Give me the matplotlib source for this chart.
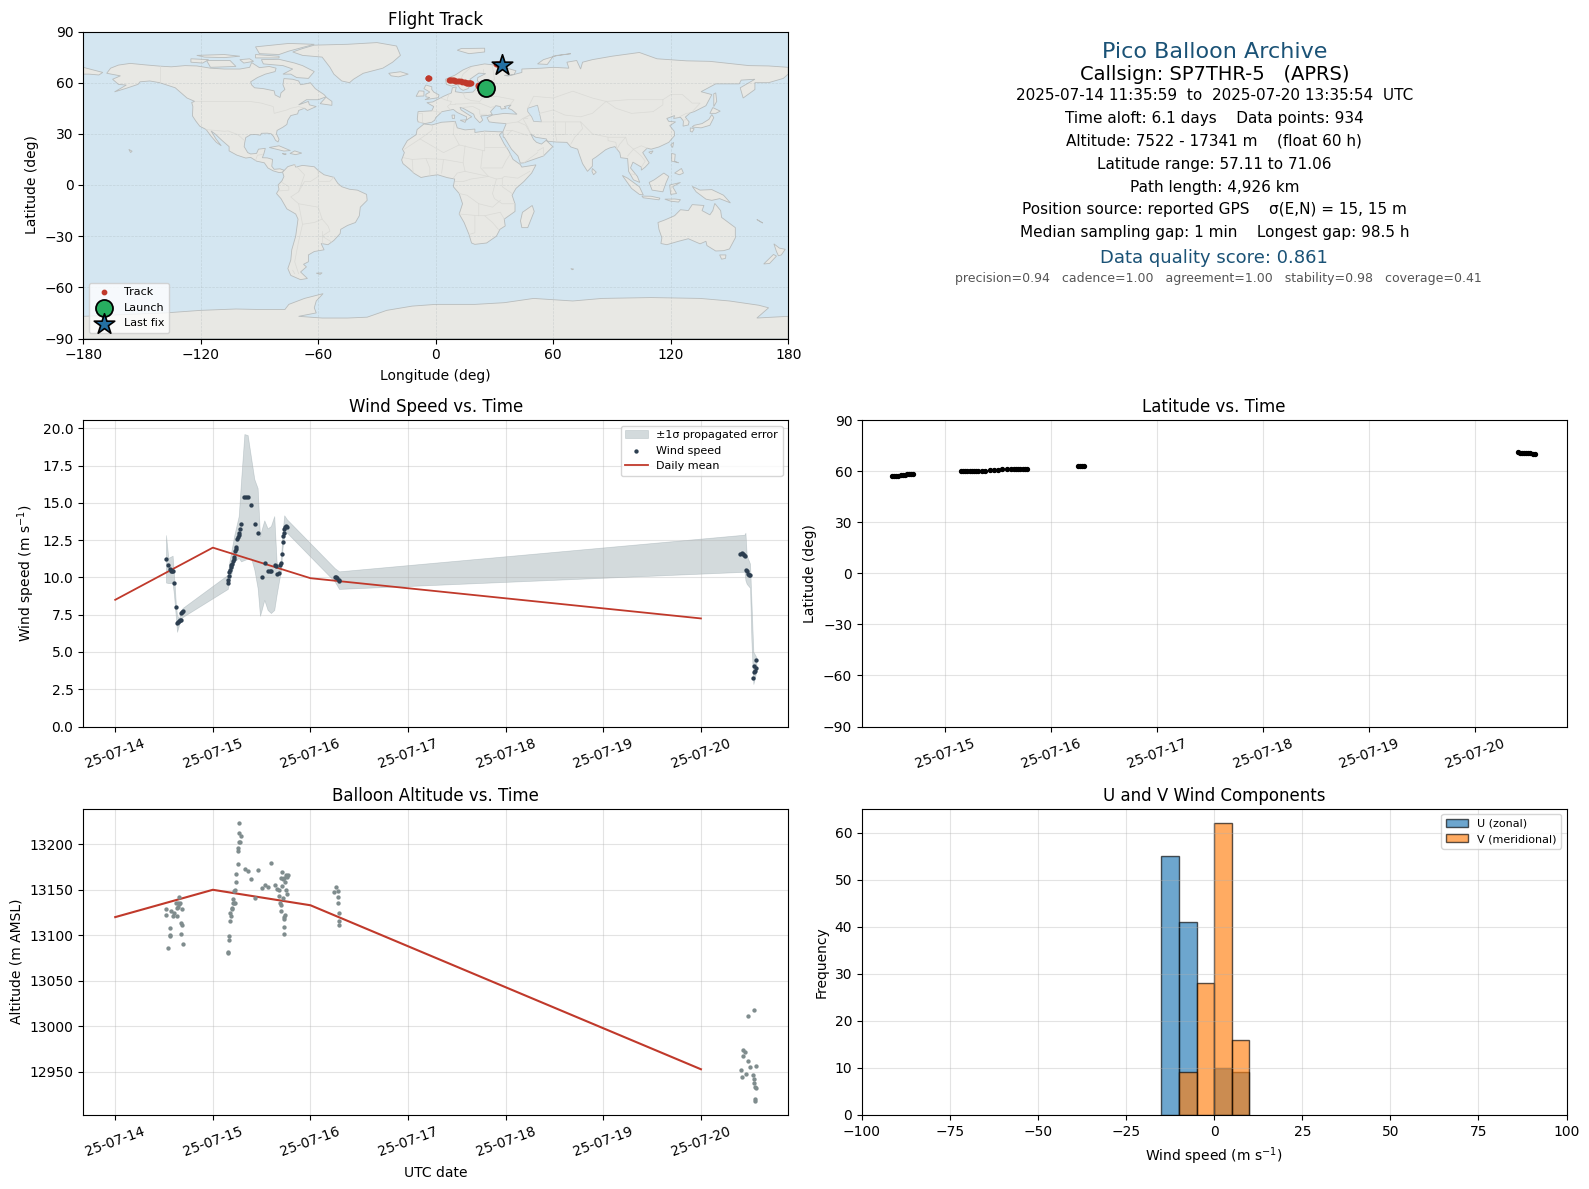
#!/usr/bin/python
# -*- coding: utf-8 -*-
from datetime import datetime

import numpy as np
import matplotlib
matplotlib.use("Agg")
import matplotlib.pyplot as plt
import matplotlib.dates as mdates

W, H = 1589, 1189

# Times are given as day of July 2025 (fractional)
mean_days = [14, 15, 16, 20]
wind_mean = [8.5, 12.0, 9.95, 7.25]
alt_mean = [13120, 13150, 13133, 12953]

wind_days = [14.520, 14.541, 14.558, 14.568, 14.578, 14.592, 14.602, 14.622, 14.633, 14.643, 14.653,
             14.663, 14.673, 14.677, 14.687, 14.694, 15.153, 15.156, 15.163, 15.170, 15.177, 15.184,
             15.190, 15.197, 15.207, 15.218, 15.221, 15.228, 15.235, 15.241, 15.252, 15.258, 15.265,
             15.272, 15.279, 15.286, 15.323, 15.340, 15.357, 15.388, 15.429, 15.459, 15.500, 15.531,
             15.561, 15.582, 15.595, 15.633, 15.650, 15.660, 15.673, 15.684, 15.694, 15.704, 15.714,
             15.714, 15.724, 15.731, 15.738, 15.748, 15.759, 16.248, 16.259, 16.276, 16.289, 16.296,
             20.405, 20.418, 20.429, 20.439, 20.452, 20.459, 20.469, 20.480, 20.490, 20.503, 20.565,
             20.544, 20.565, 20.551, 20.544, 20.531]
wind_speed = [11.24, 10.83, 10.59, 10.41, 10.41, 10.45, 9.62, 8.00, 6.94, 6.98, 7.07, 7.12, 7.14, 7.59,
              7.68, 7.73, 9.66, 9.84, 10.07, 10.34, 10.52, 10.68, 10.81, 10.92, 11.08, 11.26, 11.40,
              11.80, 11.91, 12.05, 12.59, 12.70, 12.82, 12.97, 13.22, 13.56, 15.38, 15.38, 15.38, 14.84,
              13.56, 12.95, 10.05, 10.99, 10.45, 10.45, 10.45, 10.86, 10.74, 10.25, 10.30, 10.84, 10.95,
              11.60, 12.41, 12.77, 12.95, 13.22, 13.40, 13.43, 13.38, 10.05, 10.02, 9.93, 9.84, 9.77,
              11.59, 11.61, 11.59, 11.52, 11.43, 10.52, 10.40, 10.20, 10.18, 10.16, 4.46, 4.06, 3.92,
              3.74, 3.63, 3.25]

band_days = [14.520, 14.544, 14.588, 14.602, 14.622, 14.633, 14.653, 14.677, 14.694, 15.153, 15.170,
             15.221, 15.265, 15.289, 15.323, 15.357, 15.391, 15.425, 15.459, 15.483, 15.500, 15.527,
             15.561, 15.595, 15.629, 15.653, 15.680, 15.697, 15.714, 15.731, 15.759, 16.248, 16.293,
             20.446, 20.456, 20.469, 20.503, 20.517, 20.537, 20.554, 20.568]
band_hi = [12.84, 11.31, 11.46, 10.18, 8.15, 7.48, 7.25, 7.82, 7.97, 10.18, 11.08, 12.88, 14.12, 16.49,
           19.62, 19.55, 18.06, 16.60, 15.99, 12.77, 13.22, 13.83, 13.29, 13.45, 14.12, 11.08, 10.52,
           11.19, 13.00, 14.17, 13.90, 10.63, 10.41, 12.87, 13.00, 11.48, 10.92, 8.45, 5.00, 4.82, 4.64]
band_lo = [9.66, 9.62, 9.62, 8.83, 7.25, 6.35, 6.80, 7.25, 7.36, 9.23, 9.73, 11.08, 11.31, 11.08, 11.17,
           11.26, 11.31, 10.52, 9.28, 7.43, 7.82, 8.49, 7.82, 7.61, 7.82, 8.83, 9.84, 10.41, 11.98,
           12.88, 13.00, 9.73, 9.23, 10.38, 9.80, 9.57, 9.30, 5.76, 2.85, 3.30, 3.74]

alt_days = [14.520, 14.520, 14.541, 14.558, 14.565, 14.561, 14.575, 14.595, 14.602, 14.619, 14.633,
            14.633, 14.643, 14.643, 14.653, 14.653, 14.663, 14.673, 14.677, 14.684, 14.684, 14.694,
            15.153, 15.153, 15.163, 15.163, 15.173, 15.173, 15.184, 15.194, 15.194, 15.204, 15.204,
            15.214, 15.224, 15.214, 15.224, 15.235, 15.235, 15.255, 15.255, 15.255, 15.265, 15.276,
            15.265, 15.286, 15.265, 15.327, 15.357, 15.388, 15.429, 15.459, 15.500, 15.531, 15.561,
            15.592, 15.633, 15.653, 15.673, 15.673, 15.684, 15.694, 15.694, 15.704, 15.694, 15.714,
            15.714, 15.704, 15.735, 15.724, 15.745, 15.755, 15.745, 15.755, 15.765, 15.724, 15.735,
            15.724, 15.724, 15.724,
            16.245, 16.265, 16.279, 16.279, 16.286, 16.296, 16.296, 16.296,
            20.541, 20.480, 20.429, 20.449, 20.429, 20.480, 20.408, 20.500, 20.561, 20.418, 20.459,
            20.531, 20.541, 20.541, 20.551, 20.561, 20.555, 20.555]
alt_m = [13129, 13122, 13086, 13100, 13108, 13099, 13127, 13121, 13125, 13136, 13121, 13130, 13136,
         13131, 13142, 13134, 13135, 13102, 13113, 13111, 13129, 13091,
         13082, 13081, 13095, 13099, 13116, 13124, 13121, 13130, 13129, 13140, 13135, 13136, 13135,
         13149, 13150, 13158, 13167, 13178, 13193, 13196, 13202, 13202, 13212, 13209, 13223, 13173,
         13171, 13162, 13141, 13172, 13152, 13155, 13153, 13179, 13155, 13151, 13150, 13143, 13136,
         13133, 13127, 13169, 13163, 13162, 13141, 13154, 13159, 13163, 13150, 13145, 13166, 13164,
         13166, 13120, 13122, 13118, 13109, 13102,
         13148, 13153, 13149, 13142, 13135, 13125, 13116, 13111,
         13018, 13011, 12974, 12972, 12967, 12962, 12952, 12955, 12957, 12945, 12948, 12947, 12942,
         12938, 12933, 12932, 12920, 12918]

lat_days = [14.50, 14.52, 14.54, 14.56, 14.58, 14.60, 14.62, 14.64, 14.66, 14.68, 14.70,
            15.15, 15.17, 15.19, 15.21, 15.23, 15.25, 15.27, 15.29, 15.31, 15.35, 15.38, 15.42, 15.46,
            15.50, 15.54, 15.58, 15.62, 15.65, 15.67, 15.69, 15.71, 15.73, 15.75, 15.77,
            16.25, 16.27, 16.29, 16.31,
            20.40, 20.42, 20.44, 20.46, 20.48, 20.50, 20.52, 20.54, 20.56]
lat_deg = [57.1, 57.2, 57.4, 57.5, 57.7, 57.8, 57.9, 58.1, 58.2, 58.3, 58.4,
           60.0, 60.0, 60.0, 60.0, 60.0, 60.0, 60.0, 60.0, 60.0, 60.1, 60.2, 60.6, 60.8,
           61.0, 61.1, 61.1, 61.2, 61.4, 61.5, 61.6, 61.6, 61.6, 61.6, 61.6,
           62.9, 62.9, 62.9, 62.9,
           71.06, 70.9, 70.8, 70.7, 70.6, 70.6, 70.5, 70.4, 70.3]

track_lon = [25.5, 25.0, 24.6, 24.2, 23.8, 23.4, 23.0, 22.6, 22.2, 21.8, 21.4,
             17.9, 17.7, 17.4, 17.1, 16.8, 16.5, 16.2, 15.9, 15.6, 15.0, 14.4, 13.6, 12.8,
             12.0, 11.2, 10.5, 9.8, 9.2, 8.7, 8.2, 7.8, 7.4, 7.2, 7.0,
             -3.8, -3.7, -3.7, -3.6,
             31.0, 31.4, 31.8, 32.2, 32.5, 32.8, 33.1, 33.4, 33.7]

launch_lon, launch_lat = 25.8, 57.11
last_lon, last_lat = 33.7, 70.3

hist_left = [-15, -10, 0, 5]
u_counts = [55, 41, 10, 9]
v_left = [-10, -5, 0, 5]
v_counts = [9, 28, 62, 16]

info_lines = [
    ("Pico Balloon Archive", 16, "#1a5276", 1214.5, 51.7),
    ("Callsign: SP7THR-5   (APRS)", 14, "black", 1214.5, 74),
    ("2025-07-14 11:35:59  to  2025-07-20 13:35:54  UTC", 11, "black", 1214.5, 95.2),
    ("Time aloft: 6.1 days    Data points: 934", 11, "black", 1214.5, 118.6),
    ("Altitude: 7522 - 17341 m    (float 60 h)", 11, "black", 1213.5, 140.8),
    ("Latitude range: 57.11 to 71.06", 11, "black", 1214.5, 164.2),
    ("Path length: 4,926 km", 11, "black", 1214.5, 187.5),
    ("Position source: reported GPS    \u03c3(E,N) = 15, 15 m", 11, "black", 1214.5, 209.8),
    ("Median sampling gap: 1 min    Longest gap: 98.5 h", 11, "black", 1214.5, 233),
    ("Data quality score: 0.861", 13, "#1a5276", 1213.5, 258.4),
    ("precision=0.94   cadence=1.00   agreement=1.00   stability=0.98   coverage=0.41", 9, "#555555", 1218.5, 278.7),
]

# Hand-read coastlines (lon, lat)
north_america = [(-168,65.5),(-166,68.5),(-162,70.3),(-156,71.3),(-148,70.4),(-141,69.7),(-135,69.3),(-128,70),(-122,69.8),(-115,68.5),(-108,68),(-100,68),(-95,69),(-94,71.8),(-90,68.8),(-85,69.5),(-81.5,68.5),(-82,66.5),(-87,65),(-91,63),(-94.5,60.5),(-94,58.7),(-92.5,57),(-88,56.5),(-82.5,55.2),(-82,52.8),(-79.5,51.3),(-79,54),(-77,56),(-78,58.8),(-77.5,62.4),(-73,62),(-70,61),(-69,58.8),(-65.5,59.5),(-64,60),(-61.5,56.5),(-57,53),(-56,51.7),(-60,50),(-66,50),(-70,47),(-65,49),(-64.5,47),(-61,46),(-65.5,43.7),(-67,45),(-70,43.7),(-70.5,41.7),(-74,40.7),(-75.5,38),(-76,35.5),(-78,33.9),(-81,32),(-81.3,30),(-80,26.8),(-80.5,25.2),(-81.8,26.2),(-82.8,28.5),(-84,30),(-86,30.4),(-89,30.3),(-89.5,29.2),(-92,29.6),(-94.5,29.5),(-97,27.8),(-97.5,25),(-97.8,22.5),(-96,19),(-94.5,18.2),(-91.5,18.5),(-90.5,21),(-87,21.5),(-87.7,18.5),(-88.5,16),(-86,15.9),(-83.3,15),(-83.7,11),(-82.5,9.2),(-79.5,9.5),(-77.3,8.6),(-78.2,7.5),(-80,7.3),(-83,8.3),(-85.7,10),(-87.5,13),(-91.5,14),(-94.5,16.2),(-97,15.8),(-101.5,17.5),(-105.5,20),(-105.5,22.5),(-109,26),(-112.7,30),(-114.7,31.7),(-112.2,27),(-109.5,23),(-112,25),(-115,29),(-117.2,32.5),(-120.5,34.5),(-122.5,37.5),(-124.2,40.5),(-124,46),(-124.6,48.4),(-123,49),(-127,51),(-130.5,54.5),(-133,57),(-137,58.5),(-141,60),(-146,61),(-151,60.5),(-152,59),(-158,56.7),(-164,54.6),(-158,58.6),(-162,59),(-165,62),(-161,64),(-168,65.5)]
south_america = [(-77.3,8.6),(-75.5,10.8),(-72,12),(-71.5,10.5),(-68,11.5),(-62,10.7),(-60,8.5),(-57,6),(-52,4.5),(-50,1),(-48,-1),(-44,-2.5),(-40,-3),(-35.3,-5.5),(-35,-9),(-38.5,-13),(-39,-18),(-41,-22),(-45,-23.7),(-48.5,-26),(-48.8,-28.5),(-52,-32.5),(-55,-35),(-58.5,-34.3),(-57,-38),(-62,-39),(-65,-41),(-65,-45),(-67.5,-46.5),(-66,-48),(-69,-51),(-65.5,-54.8),(-69,-55.5),(-74,-53),(-75.5,-49),(-74,-44),(-73.5,-38),(-71.5,-30),(-70.3,-20),(-71.5,-17),(-76,-14),(-79,-8),(-81.3,-5),(-80,-2.5),(-80.5,0),(-78.5,2.5),(-77.5,5),(-78.2,7.5)]
africa = [(-6,35.8),(-2,35.2),(3,36.8),(10,37.3),(11,33.5),(15,32.3),(20,32.8),(20,30.8),(25,31.6),(32,31.2),(34.3,31.2),(32.5,29.5),(35,24),(37.3,20),(39.5,15),(43.2,12),(44,10.5),(51.2,11.8),(49,7),(45,2),(41,-2),(39,-6),(40.5,-11),(40.5,-15.5),(35,-20),(35.5,-24),(32.8,-26),(31,-30),(26,-34),(20,-34.8),(18.3,-34),(17,-29),(14.5,-22),(12,-17),(13.7,-11),(12,-5),(9,-1),(9.7,3.5),(6,4.3),(1,6),(-4,5.2),(-7.5,4.4),(-11,6.8),(-13.5,9.5),(-16.7,12.5),(-17.4,14.7),(-16,19),(-17,21),(-14.5,26),(-10,29.5),(-9.5,32.5)]
eurasia = [(-9,37),(-9.4,38.7),(-9,43),(-2,43.5),(-1,46),(-4.5,48.3),(-1.5,48.7),(1.5,50.5),(4,52),(8,54),(8.5,57),(10.5,57.5),(10,54.7),(14,54),(19,54.5),(21,57),(24,57.5),(23.5,59.3),(30,60),(23,60),(21.3,61),(21.5,63),(25.5,65.3),(22,65.6),(17.5,62),(18.5,59.8),(16.5,56.5),(14,55.5),(12.5,56.5),(11,59),(8,58),(5.5,59),(5,62),(10,64.5),(14,67.5),(18,69.5),(25,71),(31,70.2),(41,67),(40,64.7),(35,64.3),(37,63.9),(44,66),(44,68),(54,68.5),(60,69),(68,68.5),(67,72),(72,73),(74,68),(75,72),(80,73.5),(90,75.5),(104,77.7),(113,74),(128,72.8),(140,72.5),(160,70),(170,69.8),(180,69),(180,65),(177.5,62.5),(170,60),(163,60),(163,56),(157,51),(155.5,57),(163,62),(156,61.5),(155,59.3),(143,59.3),(135.5,54.7),(141,53),(138,46.5),(132,43),(130,42.3),(127.5,39.8),(129.4,37),(129,35.2),(126.3,34.5),(126.5,37.5),(125,39.7),(121.5,39),(122,40.7),(118,39),(119,37.3),(122.5,37),(119.5,34.8),(121.8,31.5),(122,29),(119,25),(114,22.3),(110,21),(108,21.6),(105.7,19),(109,13),(107,10.5),(105,8.7),(105,10.5),(100.7,13.4),(99.5,10),(103,5),(104.2,1.5),(101,3),(98.5,8),(98,15.5),(94.5,16),(94,19),(91.5,22.5),(89,21.8),(86.8,20.7),(82,16.5),(80,15),(80,11),(77.5,8),(75,12.5),(73,19),(72.5,21),(69,22.3),(67,25),(61.5,25.2),(57,25.7),(56.5,27),(51,28),(48.5,30),(50,26.7),(51.5,25),(54,24),(56.4,26.2),(59.8,22.5),(55,17),(45,13),(43.2,12.8),(42,17),(38.7,21),(35,28),(34.5,28),(34.3,31.2),(36,36),(30.5,36.5),(27.3,37),(26.2,39.5),(29,41),(35,42),(41.5,41.5),(39,44),(37,45),(38.5,47),(35,46),(36,45),(33.5,44.5),(33,46),(30.7,46.5),(28,43),(28.9,41.3),(26,40.7),(23,40.5),(24,38),(22.5,36.5),(20,39.5),(19.4,41.5),(14,45),(12.4,45.5),(13,44),(18.4,40),(16.8,39),(15.7,38),(15.8,40),(11,42.5),(9,44.3),(3.2,43),(0,39.5),(-0.5,38),(-2,36.8),(-5.5,36)]
antarctica = [(-180,-77),(-160,-76),(-138,-75),(-120,-73.5),(-102,-72.7),(-90,-73),(-77,-73),(-75,-70),(-67,-66.5),(-57.5,-63.7),(-61,-68),(-62,-72),(-61,-75),(-70,-77),(-58,-78),(-45,-78),(-35,-77.5),(-25,-73.5),(-12,-71),(0,-70),(20,-70),(35,-69),(50,-66.5),(70,-68),(85,-66.5),(110,-66),(135,-66.5),(150,-68),(165,-70.5),(170,-72),(164,-78),(180,-77),(180,-90),(-180,-90)]
australia = [(113.5,-22),(114,-26),(115.5,-31),(115,-34.3),(118,-35),(124,-33),(129,-31.5),(135,-34.5),(138,-33),(138.5,-35.5),(143,-38.7),(147,-38.5),(150,-37.5),(153,-31),(153,-25),(149.5,-22),(146,-19),(145.5,-15),(142.5,-10.8),(141.5,-15),(140,-17.5),(136,-15),(137,-12),(131,-11.5),(129,-15),(125,-14.5),(122,-18),(117,-20.5)]
islands = [
    [(-73,78),(-68,80),(-62,82),(-45,82.5),(-30,83.5),(-20,81.5),(-18,76),(-22,72),(-27,68.5),(-37,65.5),(-42,62),(-44,60),(-48,61),(-52,65),(-54,69),(-58,75),(-68,76)],
    [(-80,73.7),(-72,71.5),(-68,70),(-62,66.5),(-65,62.5),(-71,63),(-74,65),(-78,65),(-73,68),(-78,70),(-88,71),(-89,73.5)],
    [(-117,73),(-105,73),(-102,69.5),(-115,69)],
    [(-125,74),(-116,73.5),(-119,71.5),(-125,72)],
    [(-90,77),(-80,76.5),(-75,78.5),(-62,82.5),(-75,83),(-92,81)],
    [(-92,76.5),(-80,75.5),(-80,74.5),(-92,74.5)],
    [(-122,76),(-108,76.5),(-100,75.5),(-108,74.7),(-118,75)],
    [(-100,73.5),(-95,74),(-93,72.5),(-98,71.5)],
    [(-59,47.7),(-53,46.7),(-53,49),(-56,51.5)],
    [(-85,22),(-80,23),(-74.2,20.2),(-77.5,19.9)],
    [(-74.4,18.5),(-72,20),(-68.4,18.7),(-71.5,17.8)],
    [(-78.3,18.4),(-76.3,18.2),(-77,17.8)],
    [(-156.7,20.9),(-155,19.8),(-155.8,19)],
    [(-180,69),(-175,67.5),(-170,66),(-172,64.5),(-177,65),(-180,65)],
    [(145,-41),(148.2,-41),(148,-43),(146,-43.5)],
    [(172.7,-34.5),(175.5,-37),(178.5,-37.7),(176.5,-41),(175,-41.5),(174,-39)],
    [(172.5,-40.7),(174,-41.7),(170.5,-46),(167.5,-46.3)],
    [(49.3,-12),(50.3,-15.5),(47,-25),(44,-25),(43.3,-21),(44.3,-16)],
    [(-5.5,50),(1.3,51.2),(1.7,52.8),(-1,54.5),(-2,56),(-2,57.6),(-5,58.6),(-6,56.5),(-3,54.5),(-5,53.2),(-5,51.7),(-3,51.3)],
    [(-10,52),(-6,52.2),(-6,55),(-8.5,55.2)],
    [(-24,65.5),(-18,66.4),(-14,65),(-19,63.4),(-22.7,64)],
    [(11,79),(17,77),(25,78),(25,80.2),(13,80)],
    [(52,71),(57,70.7),(60,75.5),(69,77),(62,76),(55,73.5)],
    [(80,9.7),(82,7.5),(80.6,6),(79.8,8)],
    [(130.9,34),(135.5,33.5),(140,35),(142,39.5),(141,41.3),(139.5,38.5),(136,36),(132,35)],
    [(140,42),(141.5,45.4),(145.3,43.3),(143,42)],
    [(130,33.5),(132,33),(131,31),(130,31.5)],
    [(142,46),(143.5,49),(143,54),(142,53.5)],
    [(121.5,25),(121,22),(120,23.5)],
    [(108.8,19.3),(111,20),(110,18.3)],
    [(120.5,18.5),(122.3,18),(122,14),(124,13),(120.5,14)],
    [(122,7),(125.5,9.7),(126.5,7),(124.5,6)],
    [(95.3,5.6),(98,4),(104,-1),(106,-5.8),(104,-5.5),(100,-2)],
    [(105.3,-6.5),(110,-6.6),(114.5,-7.7),(114,-8.7),(106,-7.5)],
    [(109,1.5),(111.5,3),(116.5,7),(119,5),(117.5,1),(116,-4),(110.5,-3)],
    [(119.5,0),(125,1.5),(121,-1),(123,-5),(120,-5.5)],
    [(131,-0.8),(135,-3),(141,-2.7),(147,-6),(150.5,-10.5),(145,-8),(141,-9),(138,-8.3),(133,-4)],
    [(117,-8.3),(122,-8.2),(125,-8.6),(124,-10),(120,-9.5)],
    [(-61,-51.7),(-58,-51.5),(-59,-52.4)],
    [(69,-49),(70.5,-49.3),(69.7,-49.7)],
    [(8.3,41),(9.7,41),(9.6,39),(8.5,39)],
    [(12.5,38),(15.5,38.2),(15,36.7)],
    [(165,-21),(167,-22.3),(164,-20.2)],
]
caspian = [(47,45),(52,46.8),(53,42),(54,37),(50,37.3),(49,40),(47,43)]

borders = [
    [(-141,69.7),(-141,60)], [(-123,49),(-95,49),(-89,48),(-83,46),(-82.5,42),(-76,44),(-74,45),(-70,46),(-67,45)],
    [(-117.2,32.5),(-108,31.5),(-106,31.7),(-101,29.5),(-97.5,25.9)], [(-92,14.5),(-91,17.5),(-89,17.8),(-88.5,18)],
    [(-72,12),(-67,6),(-70,-4),(-74,-7),(-70,-11),(-69,-17),(-68,-23),(-70,-33),(-72,-45),(-70,-52)],
    [(-60,8.5),(-60,5),(-64,2),(-67,2),(-70,-4)], [(-52,4.5),(-54,2.2),(-60,2)], [(-70,-11),(-60,-13),(-58,-20),(-55,-24),(-54,-27),(-58,-30),(-53,-33.5)],
    [(-78.5,1.5),(-75,-1),(-75,-3),(-80,-3.5)], [(-68,-23),(-62,-22),(-58,-20)], [(-58,-27),(-58,-34)],
    [(-9,37),(-7,37),(-7,42),(-9,42)], [(-2,43.5),(3,42.5)], [(2.5,51),(6,49.5),(8,49),(7.5,47.5),(6,46),(7.5,44)], [(7,53.5),(6,51),(6,49.5)],
    [(14,54),(15,51),(18,49.5),(22.5,49),(24,51),(23.5,54),(21,55.5)], [(10,47.5),(13,47.5),(17,48),(22.5,48)], [(7.5,47.5),(10,47.5)],
    [(14,45.5),(19,46),(22.5,44),(22.5,41.5),(26,41.5)], [(22.5,48),(28,45.5),(30,46)], [(28,57.5),(28,60),(30,62),(29,69.5)],
    [(18,69),(14,65),(12,60),(11,59)], [(24,68),(24,66)], [(31,52),(40,50),(38,47)], [(24,51),(31,52)],
    [(36,36),(42,37),(44.5,39),(48,41)], [(42,37),(46,35),(48.5,30)], [(36,32),(39,32),(47,29)], [(39,32),(36.5,29.5)], [(52,20),(55,22),(55,17)], [(45,13),(52,19)],
    [(48,41),(45,39),(47,39)], [(44.5,39),(47,34),(48.5,30)], [(61,37),(61,30),(62,25.2)], [(54,37),(61,37),(66,37),(74,37),(75,33),(71,28),(69,24)],
    [(66,37),(66,30),(61,30)], [(47,45),(50,52),(60,51),(70,55),(80,51),(87,49),(98,50),(106,50),(116,50),(120,53),(126,53),(131,48),(135,48),(131,43)],
    [(53,42),(60,44),(66,41),(74,40),(80,42),(87,49)], [(87,49),(92,45),(100,42),(111,43),(116,47),(116,50)], [(74,37),(80,30),(88,28),(97,28),(98,24),(101,21),(105,23),(108,21.6)],
    [(88,28),(88,26),(92,25),(92.5,21)], [(97,28),(94,24),(92.5,21)], [(101,21),(98,17)], [(101,21),(105,17),(107,14),(105,10.5)], [(100,6.5),(102,6)],
    [(124.5,40),(128,42),(130,42.3)], [(126.5,38),(128.5,38.5)],
    [(-16,21),(-8,27),(-5,25),(4,19),(12,23.5),(25,20),(25,31.6)], [(25,22),(36.8,22)], [(-8,27),(-2,32),(-1.5,35)], [(9,30),(9.5,37)], [(9,30),(12,23.5)],
    [(-16.5,16),(-12,15),(-5,15.5),(4,15),(14,13),(15,8),(11,7),(9,4)], [(4,15),(3,7)], [(-5,15.5),(-3,10),(-3,5.2)], [(-12,15),(-11.5,7)],
    [(14,13),(15,23)], [(24,20),(23,10),(27,5),(31,3.5),(34,4),(35,5),(42,4),(48,8)], [(24,10),(34,10),(36,14.5),(38,18)], [(34,4),(34,-1),(39,-5)], [(31,3.5),(29,-5),(30,-8),(34,-11),(40.5,-11)],
    [(15,8),(27,5)], [(10,2),(14,2),(18,3.5),(27,5)], [(12,-5),(16,-6),(22,-11),(22,-18),(12,-17)], [(22,-11),(29,-13),(33,-9)], [(22,-18),(25,-18),(33,-16),(35,-20)], [(20,-18),(20,-28),(17,-29)],
    [(25,-18),(29,-22),(32,-26)],
    [(-73,-50),(-72,-52)],
]

months = mdates.date2num(datetime(2025, 7, 1)) - 1


def to_time(days):
    return months + np.asarray(days, dtype=float)


def place(left, top, right, bottom):
    return fig.add_axes([left / W, 1 - bottom / H, (right - left) / W, (bottom - top) / H])


def time_axis(ax, start, end):
    ax.set_xlim(to_time(start), to_time(end))
    ax.xaxis.set_major_locator(mdates.DayLocator())
    ax.xaxis.set_major_formatter(mdates.DateFormatter("%y-%m-%d"))
    ax.tick_params(axis="x", labelrotation=20)
    ax.grid(True, alpha=0.35)


fig = plt.figure(figsize=(W / 100, H / 100), dpi=100)

# Map
ax = place(83.2, 31.5, 788.2, 338.5)
ax.set_facecolor("#d4e6f1")
for poly in [north_america, south_america, africa, eurasia, antarctica, australia] + islands:
    xy = np.array(poly)
    ax.fill(xy[:, 0], xy[:, 1], facecolor="#e8e8e4", edgecolor="#b8bcbc", linewidth=0.6, zorder=1)
xy = np.array(caspian)
ax.fill(xy[:, 0], xy[:, 1], facecolor="#d4e6f1", edgecolor="#b8bcbc", linewidth=0.5, zorder=1.1)
for line in borders:
    xy = np.array(line)
    ax.plot(xy[:, 0], xy[:, 1], color="#dadad6", linewidth=0.5, zorder=1.2)
ax.scatter(track_lon, lat_deg, s=10, color="#c0392b", zorder=3, label="Track")
ax.scatter([launch_lon], [launch_lat], s=150, color="#27ae60", edgecolor="black", linewidth=1.3, zorder=4, label="Launch")
ax.scatter([last_lon], [last_lat], s=240, marker="*", color="#2471a3", edgecolor="black", linewidth=1.2, zorder=5, label="Last fix")
ax.set_xlim(-180, 180)
ax.set_ylim(-90, 90)
ax.set_xticks(np.arange(-180, 181, 60))
ax.set_yticks(np.arange(-90, 91, 30))
ax.grid(True, color="#9aa5a8", alpha=0.3, linewidth=0.5, linestyle="--", zorder=2)
ax.set_title("Flight Track", pad=4.5)
ax.set_xlabel("Longitude (deg)", labelpad=5)
ax.set_ylabel("Latitude (deg)")
ax.legend(loc="lower left", fontsize=8, framealpha=0.8, labelspacing=0.5, borderpad=0.4)

# Info text
for text, size, color, x, y in info_lines:
    fig.text(x / W, 1 - y / H, text, fontsize=size, color=color, ha="center", va="center")

# Wind speed
ax = place(83.2, 420.2, 788.2, 726.5)
ax.fill_between(to_time(band_days), band_lo, band_hi, color="#7b8f96", alpha=0.33, linewidth=0.5, label="\u00b11\u03c3 propagated error")
ax.scatter(to_time(wind_days), wind_speed, s=4.5, color="#2c3e50", zorder=3, label="Wind speed")
ax.plot(to_time(mean_days), wind_mean, color="#c0392b", linewidth=1.3, label="Daily mean")
time_axis(ax, 13.672, 20.894)
ax.set_ylim(0, 20.55)
ax.set_yticks(np.arange(0, 20.1, 2.5))
ax.set_title("Wind Speed vs. Time")
ax.set_ylabel("Wind speed (m s$^{-1}$)")
ax.legend(loc="upper right", fontsize=8)

# Latitude
ax = place(862, 420.2, 1566.5, 726.5)
ax.scatter(to_time(lat_days), lat_deg, s=8, color="black", zorder=3)
time_axis(ax, 14.216, 20.86)
ax.set_ylim(-90, 90)
ax.set_yticks(np.arange(-90, 91, 30))
ax.set_title("Latitude vs. Time")
ax.set_ylabel("Latitude (deg)")

# Altitude
ax = place(83.2, 808.7, 788.2, 1114.8)
ax.scatter(to_time(alt_days), alt_m, s=4.5, color="#7f8c8d", zorder=3)
ax.plot(to_time(mean_days), alt_mean, color="#c0392b", linewidth=1.5)
time_axis(ax, 13.672, 20.894)
ax.set_ylim(12903, 13239)
ax.set_yticks(np.arange(12950, 13201, 50))
ax.set_title("Balloon Altitude vs. Time", pad=5.5)
ax.set_xlabel("UTC date", labelpad=5)
ax.set_ylabel("Altitude (m AMSL)")

# Wind components
ax = place(862, 808.7, 1566.5, 1114.8)
ax.bar(hist_left, u_counts, width=5, align="edge", color="#1f77b4", edgecolor="black", alpha=0.65, label="U (zonal)")
ax.bar(v_left, v_counts, width=5, align="edge", color="#ff7f0e", edgecolor="black", alpha=0.65, label="V (meridional)")
ax.set_xlim(-100, 100)
ax.set_ylim(0, 65.1)
ax.set_xticks(np.arange(-100, 101, 25))
ax.grid(True, alpha=0.35)
ax.set_title("U and V Wind Components", pad=5.5)
ax.set_xlabel("Wind speed (m s$^{-1}$)", labelpad=5)
ax.set_ylabel("Frequency")
ax.legend(loc="upper right", fontsize=8)

fig.savefig("out.png", dpi=100)
